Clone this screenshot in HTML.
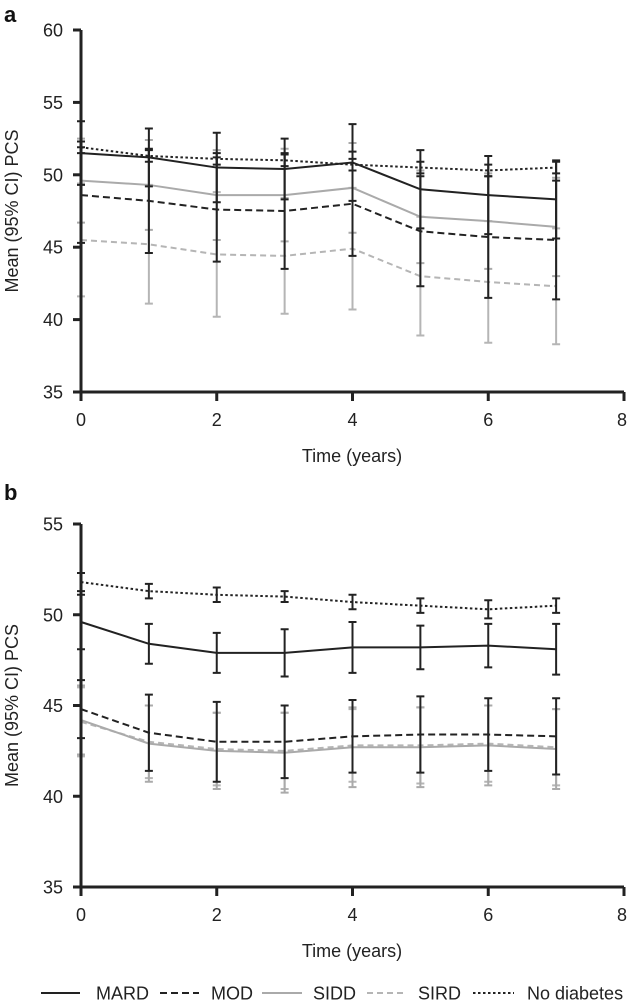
<!DOCTYPE html>
<html><head><meta charset="utf-8"><style>
body{margin:0;background:#fff;}
svg{display:block;font-family:"Liberation Sans",Arial,sans-serif;}
</style></head><body>
<svg id="chart" width="630" height="1003" viewBox="0 0 630 1003"></svg>
<script>
const years=[0,1,2,3,4,5,6,7];
const xTicks=[0,2,4,6,8];
const seriesNames=['MARD','MOD','SIDD','SIRD','No diabetes'];
// Panel a
const aMARD=[51.5,51.2,50.5,50.4,50.85,49.0,48.6,48.3];
const aMARDci=[2.2,2.0,2.4,2.1,2.65,2.7,2.7,2.7];
const aMOD=[48.6,48.2,47.6,47.5,48.0,46.1,45.7,45.5];
const aMODci=[3.3,3.6,3.6,4.0,3.6,3.8,4.2,4.1];
const aSIDD=[49.6,49.3,48.6,48.6,49.1,47.1,46.8,46.4];
const aSIDDci=[2.9,3.1,3.1,3.2,3.1,3.2,3.3,3.4];
const aSIRD=[45.5,45.2,44.5,44.4,44.9,43.0,42.6,42.3];
const aSIRDci=[3.9,4.1,4.3,4.0,4.2,4.1,4.2,4.0];
const aND=[51.9,51.3,51.1,51.0,50.7,50.5,50.3,50.5];
const aNDci=[0.4,0.4,0.4,0.4,0.4,0.4,0.4,0.4];
const aYTicks=[35,40,45,50,55,60];
// Panel b
const bMARD=[49.6,48.4,47.9,47.9,48.2,48.2,48.3,48.1];
const bMARDci=[1.5,1.1,1.1,1.3,1.4,1.2,1.2,1.4];
const bMOD=[44.8,43.5,43.0,43.0,43.3,43.4,43.4,43.3];
const bMODci=[1.6,2.1,2.2,2.0,2.0,2.1,2.0,2.1];
const bSIDD=[44.2,42.9,42.5,42.4,42.7,42.7,42.8,42.6];
const bSIDDci=[1.9,2.1,2.1,2.2,2.2,2.2,2.2,2.2];
const bSIRD=[44.1,43.0,42.6,42.5,42.8,42.8,42.9,42.7];
const bSIRDci=[1.9,2.0,2.0,2.1,2.0,2.1,2.1,2.1];
const bND=[51.8,51.3,51.1,51.0,50.7,50.5,50.3,50.5];
const bNDci=[0.5,0.4,0.4,0.3,0.4,0.4,0.5,0.4];
const bYTicks=[35,40,45,50,55];

const NS='http://www.w3.org/2000/svg';
const svg=document.getElementById('chart');
function mk(tag,attrs,parent){const e=document.createElementNS(NS,tag);for(const k in attrs)e.setAttribute(k,attrs[k]);(parent||svg).appendChild(e);return e;}
const styles={
 'MARD':{stroke:'#222',dash:'',w:2},
 'MOD':{stroke:'#222',dash:'7,4',w:2},
 'SIDD':{stroke:'#aaa',dash:'',w:2},
 'SIRD':{stroke:'#b5b5b5',dash:'6,4',w:2},
 'No diabetes':{stroke:'#222',dash:'2.5,2.5',w:2}
};
function panel(cfg){
 const g=mk('g',{});
 
 
 const X0=81,X1=624,Y0=cfg.yTop,Y1=cfg.yBot;
 const ymin=cfg.yTicks[0],ymax=cfg.yTicks[cfg.yTicks.length-1];
 const xs=v=>X0+(v-0)/(8-0)*(X1-X0);
 const ys=v=>Y1-(v-ymin)/(ymax-ymin)*(Y1-Y0);
 const order=['SIRD','SIDD','MOD','MARD','No diabetes'];
 order.forEach(n=>{
  const s=cfg.series[n],st=styles[n];
  const sg=mk('g',{},g);
  
  
  s.vals.forEach((v,i)=>{
   const x=xs(years[i]),hi=ys(v+s.ci[i]),lo=ys(v-s.ci[i]);
   const eb=mk('path',{d:`M${x},${hi}V${lo}M${x-4},${hi}H${x+4}M${x-4},${lo}H${x+4}`,stroke:st.stroke,'stroke-width':2,fill:'none'},sg);
   
   
  });
  const d=s.vals.map((v,i)=>(i?'L':'M')+xs(years[i])+','+ys(v)).join('');
  const ln=mk('path',{d,stroke:st.stroke,'stroke-width':st.w,fill:'none','stroke-dasharray':st.dash},sg);
  
  
 });
 const ax=mk('path',{d:`M${X0},${Y0}V${Y1}H${X1}`,stroke:'#222','stroke-width':3,fill:'none'},g);
 
 
 cfg.yTicks.forEach(t=>{
  mk('line',{x1:X0-8,x2:X0,y1:ys(t),y2:ys(t),stroke:'#222','stroke-width':3},g);
  const tx=mk('text',{x:63,y:ys(t)+6.5,'text-anchor':'end','font-size':18,fill:'#222'},g);
  tx.textContent=t;
  
  
 });
 xTicks.forEach(t=>{
  mk('line',{x1:xs(t),x2:xs(t),y1:Y1,y2:Y1+9,stroke:'#222','stroke-width':3},g);
  const tx=mk('text',{x:xs(t)-(t===8?2:0),y:Y1+34,'text-anchor':'middle','font-size':18,fill:'#222'},g);
  tx.textContent=t;
  
  
 });
 const xt=mk('text',{x:352,y:Y1+70,'text-anchor':'middle','font-size':18,fill:'#222'},g);
 xt.textContent='Time (years)';
 
 
 const cy=(Y0+Y1)/2;
 const yt=mk('text',{x:18,y:cy,'text-anchor':'middle','font-size':18,fill:'#222',transform:`rotate(-90 18 ${cy})`},g);
 yt.textContent='Mean (95% CI) PCS';
 
 
 const pl=mk('text',{x:4,y:cfg.labelY,'font-size':22,'font-weight':'bold',fill:'#111'},g);
 pl.textContent=cfg.label;
 
 
}
panel({label:'a',yTop:30,yBot:392,labelY:22,yTicks:aYTicks,series:{
 'MARD':{vals:aMARD,ci:aMARDci},'MOD':{vals:aMOD,ci:aMODci},'SIDD':{vals:aSIDD,ci:aSIDDci},'SIRD':{vals:aSIRD,ci:aSIRDci},'No diabetes':{vals:aND,ci:aNDci}}});
panel({label:'b',yTop:524,yBot:887,labelY:500,yTicks:bYTicks,series:{
 'MARD':{vals:bMARD,ci:bMARDci},'MOD':{vals:bMOD,ci:bMODci},'SIDD':{vals:bSIDD,ci:bSIDDci},'SIRD':{vals:bSIRD,ci:bSIRDci},'No diabetes':{vals:bND,ci:bNDci}}});
const lg=mk('g',{});


const legX=[[41,80,96],[160,199,211],[262,302,313],[367,407,418],[473,514,527]];
seriesNames.forEach((n,i)=>{
 const st=styles[n],p=legX[i];
 const e=mk('g',{},lg);
 
 
 mk('line',{x1:p[0],x2:p[1],y1:993,y2:993,stroke:st.stroke,'stroke-width':2,'stroke-dasharray':st.dash},e);
 const t=mk('text',{x:p[2],y:999.5,'font-size':18,fill:'#222'},e);
 t.textContent=n;
});
</script>
</body></html>
